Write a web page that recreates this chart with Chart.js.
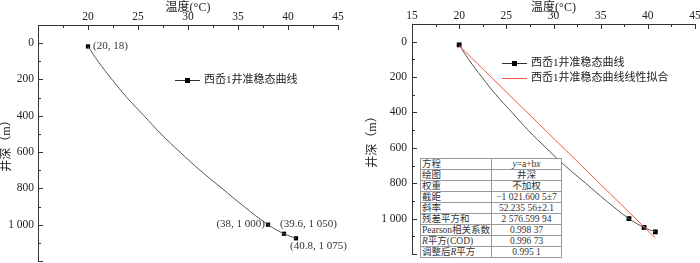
<!DOCTYPE html>
<html><head><meta charset="utf-8">
<script src="https://cdn.jsdelivr.net/npm/chart.js@4.4.1/dist/chart.umd.min.js"></script>
<style>
html,body{margin:0;padding:0;background:#fff;overflow:hidden;width:700px;height:263px;position:relative}
#c1{position:absolute;left:0;top:0}
#c2{position:absolute;left:360px;top:0}
#fit{position:absolute;left:420px;top:158px;width:141px;border-collapse:collapse;font-family:"Liberation Serif","Noto Sans CJK SC",serif;font-size:9.5px;color:#333;background:#fff;table-layout:fixed}
#fit td{border:1px solid #999;height:10px;line-height:10px;padding:0 0 0 1px;white-space:nowrap;overflow:visible}
#fit td.v{text-align:center;padding:0}
</style></head><body>
<canvas id="c1" width="350" height="265"></canvas>
<canvas id="c2" width="340" height="263"></canvas>
<table id="fit"><colgroup><col style="width:71px"><col style="width:70px"></colgroup><tbody id="fitBody"></tbody></table>
<script>
// ---- data ----
const curveTemps  = [20, 21.0, 22.4, 23.9, 25.6, 27.3, 29.2, 31.2, 33.4, 35.6, 38, 39.6, 40.8];
const curveDepths = [18, 100, 200, 300, 400, 500, 600, 700, 800, 900, 1000, 1050, 1075];
const pointTemps  = [20, 38, 39.6, 40.8];
const pointDepths = [18, 1000, 1050, 1075];
const fitTemps    = [20, 40.8];
const fitDepths   = [23.1, 1109.6];
const xTicks = [15, 20, 25, 30, 35, 40, 45];
const yTicks = [0, 200, 400, 600, 800, 1000];
const seriesName = '西岙1井准稳态曲线';
const fitName = '西岙1井准稳态曲线线性拟合';
const xTitle = '温度(°C)';
const yTitle = '井深（m）';
const fitRowNames  = ['方程', '绘图', '权重', '截距', '斜率', '残差平方和', 'Pearson相关系数', 'R平方(COD)', '调整后R平方'];
const fitRowValues = ['y=a+bx', '井深', '不加权', '−1 021.600 5±7', '52.235 56±2.1', '2 576.599 94', '0.998 37', '0.996 73', '0.995 1'];

// ---- helpers ----
const fmt = v => String(v).replace(/\B(?=(\d{3})+(?!\d))/g, ' ');
const zip = (xs, ys) => xs.map((x, i) => ({x, y: ys[i]}));
const SERIF = '"Liberation Serif", "Noto Sans CJK SC", serif';
const INK = '#333';

// table
const tb = document.getElementById('fitBody');
fitRowNames.forEach((n, i) => {
  const tr = document.createElement('tr');
  const a = document.createElement('td');
  const b = document.createElement('td'); b.className = 'v';
  a.innerHTML = n.replace(/^R|后R/, m => m.replace('R', '<i>R</i>'));
  b.innerHTML = fitRowValues[i] === 'y=a+bx' ? '<i>y</i>=a+b<i>x</i>' : fitRowValues[i];
  tr.appendChild(a); tr.appendChild(b); tb.appendChild(tr);
});

const inwardTicks = {
  id: 'inwardTicks',
  afterDraw(chart) {
    const {ctx, chartArea: a, scales: {x, y}} = chart;
    ctx.save(); ctx.strokeStyle = INK; ctx.lineWidth = 1;
    for (let v = x.min; v <= x.max + 1e-9; v += 2.5) {
      const px = Math.round(x.getPixelForValue(v)) + 0.5;
      const major = Math.abs(v / 5 - Math.round(v / 5)) < 1e-9;
      ctx.beginPath(); ctx.moveTo(px, a.top); ctx.lineTo(px, a.top + (major ? 5 : 3)); ctx.stroke();
    }
    for (let v = 0; v <= y.max + 1e-9; v += 100) {
      const py = Math.round(y.getPixelForValue(v)) + 0.5;
      const major = v % 200 === 0;
      ctx.beginPath(); ctx.moveTo(a.left, py); ctx.lineTo(a.left + (major ? 5 : 3), py); ctx.stroke();
    }
    ctx.restore();
  }
};

function makeLegend(items, x0, y0, gap) {
  return {
    id: 'customLegend',
    afterDraw(chart) {
      const ctx = chart.ctx;
      ctx.save();
      ctx.font = '11px ' + SERIF; ctx.textBaseline = 'middle'; ctx.fillStyle = '#222';
      items.forEach((it, i) => {
        const yy = y0 + i * gap + 0.5;
        ctx.strokeStyle = it.color; ctx.lineWidth = 1;
        ctx.beginPath(); ctx.moveTo(x0, yy); ctx.lineTo(x0 + 25, yy); ctx.stroke();
        if (it.marker) { ctx.fillStyle = '#000'; ctx.fillRect(x0 + 10, yy - 2.5, 5, 5); ctx.fillStyle = '#222'; }
        ctx.fillText(it.text, x0 + 29, yy);
      });
      ctx.restore();
    }
  };
}

function baseOptions(cfg) {
  return {
    responsive: false, animation: false, devicePixelRatio: 1,
    layout: {padding: cfg.padding},
    plugins: {legend: {display: false}, tooltip: {enabled: false}},
    scales: {
      x: {
        type: 'linear', position: 'top', min: xTicks[0], max: xTicks[xTicks.length - 1],
        afterBuildTicks: s => { s.ticks = xTicks.map(v => ({value: v})); },
        ticks: {padding: 1, color: '#222', font: {family: SERIF, size: 11.5}, maxRotation: 0, autoSkip: false,
          callback: v => (cfg.hideFirstX && v === xTicks[0]) ? '' : String(v)},
        grid: {display: true, drawOnChartArea: false, drawTicks: false},
        border: {display: true, color: INK, width: 1},
        title: {display: true, text: xTitle, color: '#222', font: {family: SERIF, size: 12}, padding: {top: 1, bottom: 0}},
        afterFit: s => { s.height = cfg.xH; s.paddingLeft = 0; s.paddingRight = 0; }
      },
      y: {
        type: 'linear', reverse: true, min: -100, max: 1200,
        afterBuildTicks: s => { s.ticks = yTicks.map(v => ({value: v})); },
        ticks: {padding: cfg.yPad, color: '#222', font: {family: SERIF, size: 11.5}, autoSkip: false, callback: v => fmt(v)},
        grid: {display: true, drawOnChartArea: false, drawTicks: false},
        border: {display: true, color: INK, width: 1},
        title: {display: true, text: yTitle, color: '#222', font: {family: SERIF, size: 12}, padding: {top: cfg.yTitlePad, bottom: 0}},
        afterFit: s => { s.width = cfg.yW; s.paddingTop = 0; s.paddingBottom = 0; }
      }
    }
  };
}

// ---- left chart ----
const labelOffsets = [[5, 0, 'left'], [-3, -1, 'right'], [-4, -10, 'left'], [-6, 8, 'left']];
const pointLabels = {
  id: 'pointLabels',
  afterDraw(chart) {
    const {ctx, scales: {x, y}} = chart;
    ctx.save(); ctx.font = '11px ' + SERIF; ctx.fillStyle = '#333'; ctx.textBaseline = 'middle';
    pointTemps.forEach((t, i) => {
      const [dx, dy, al] = labelOffsets[i];
      ctx.textAlign = al;
      ctx.fillText('(' + fmt(t) + ', ' + fmt(pointDepths[i]) + ')', x.getPixelForValue(t) + dx, y.getPixelForValue(pointDepths[i]) + dy);
    });
    ctx.restore();
  }
};

new Chart(document.getElementById('c1'), {
  type: 'scatter',
  data: {datasets: [
    {label: seriesName, data: zip(curveTemps, curveDepths), showLine: true, borderColor: '#555', borderWidth: 1, pointRadius: 0, tension: 0.4},
    {label: seriesName, data: zip(pointTemps, pointDepths), showLine: false, pointStyle: 'rect', pointRadius: 3, backgroundColor: '#000', borderColor: '#000', borderWidth: 0}
  ]},
  options: baseOptions({padding: {left: 0, right: 12, top: 0, bottom: 0}, xH: 25, yW: 38, yPad: 4, yTitlePad: 0, hideFirstX: true}),
  plugins: [inwardTicks, pointLabels, makeLegend([{text: seriesName, color: '#333', marker: true}], 175, 80, 15)]
});

// ---- right chart ----
new Chart(document.getElementById('c2'), {
  type: 'scatter',
  data: {datasets: [
    {label: fitName, data: zip(fitTemps, fitDepths), showLine: true, borderColor: '#ee5a44', borderWidth: 1, pointRadius: 0},
    {label: seriesName, data: zip(curveTemps, curveDepths), showLine: true, borderColor: '#555', borderWidth: 1, pointRadius: 0, tension: 0.4},
    {label: seriesName, data: zip(pointTemps, pointDepths), showLine: false, pointStyle: 'rect', pointRadius: 3.4, backgroundColor: '#000', borderColor: '#000', borderWidth: 0}
  ]},
  options: baseOptions({padding: {left: 0, right: 5, top: 0, bottom: 9}, xH: 24, yW: 52, yPad: 5, yTitlePad: 6, hideFirstX: false}),
  plugins: [inwardTicks, makeLegend([{text: seriesName, color: '#333', marker: true}, {text: fitName, color: '#ee5a44', marker: false}], 142, 63, 15)]
});
</script>
</body></html>
